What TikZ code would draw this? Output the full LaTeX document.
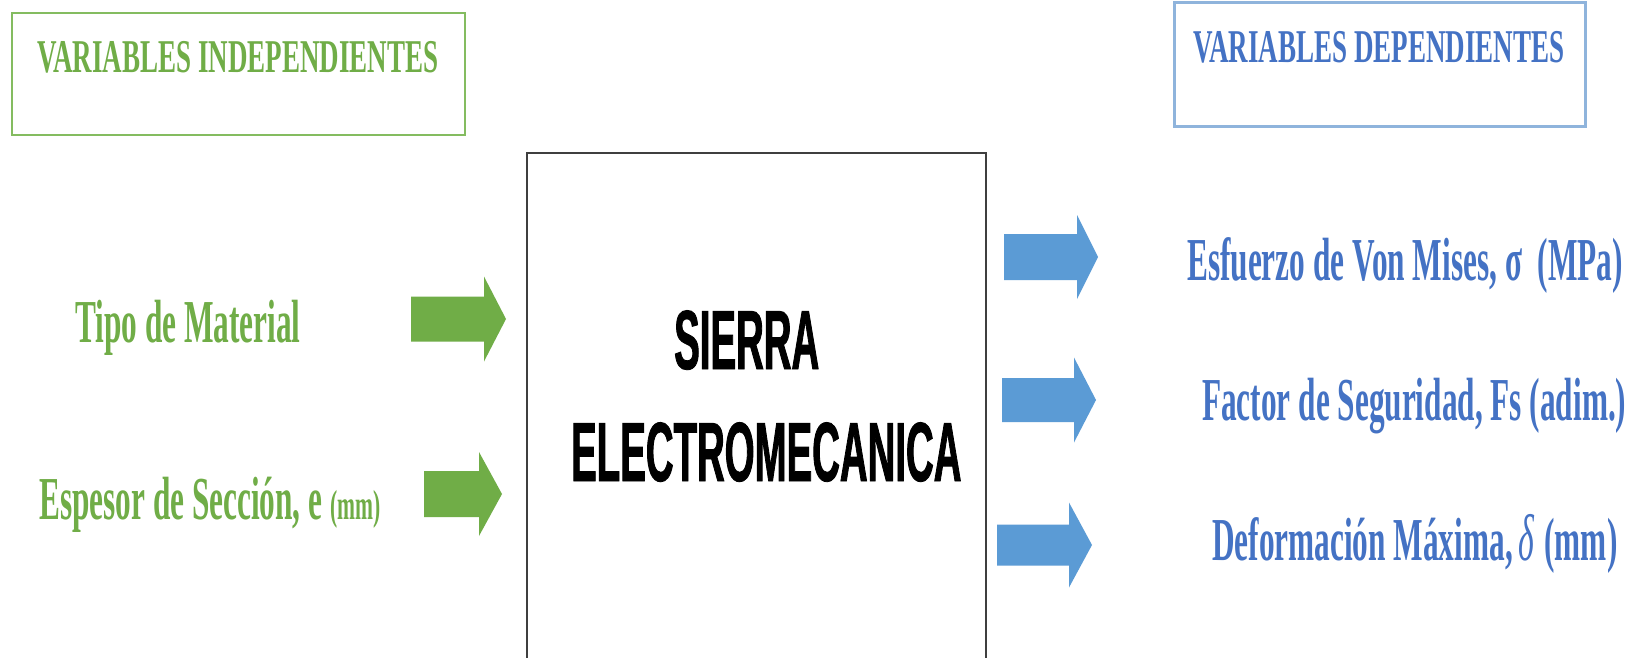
\documentclass[tikz,border=0pt]{standalone}
\usepackage{fontspec}
% condensed serif for the variable labels and the headings
\newfontfamily\labelfont[FakeStretch=0.513]{Liberation Serif}
\newfontfamily\headfont[FakeStretch=0.575]{Liberation Serif}
% condensed heavy sans for the central block
\newfontfamily\blockfont[FakeStretch=0.457,FakeBold=1]{Liberation Sans}

\definecolor{indepgreen}{HTML}{70AD47}
\definecolor{indepframe}{HTML}{84BC60}
\definecolor{depblue}{HTML}{4472C4}
\definecolor{deparrow}{HTML}{5B9BD5}
\definecolor{depframe}{HTML}{8FB4DC}
\definecolor{blockframe}{HTML}{3F3F3F}

% block arrow: style, x of tail, x of head base, x of tip, y of axis, half shaft, half head
\newcommand\fatarrow[7]{%
  \fill[#1] (#2,#5-#6) -- (#3,#5-#6) -- (#3,#5-#7) -- (#4,#5)
    -- (#3,#5+#7) -- (#3,#5+#6) -- (#2,#5+#6) -- cycle;}

\begin{document}
\begin{tikzpicture}[x=1pt,y=-1pt,
  lab/.style={inner sep=0pt, anchor=base west},
  frame/.style={inner sep=0pt, anchor=north west},
  indeplabel/.style={lab, text=indepgreen, font=\labelfont\bfseries\fontsize{61}{62}\selectfont},
  deplabel/.style={lab, text=depblue, font=\labelfont\bfseries\fontsize{61}{62}\selectfont},
  heading/.style={lab, font=\headfont\bfseries\fontsize{47}{48}\selectfont},
  blocktext/.style={lab, font=\blockfont\bfseries\fontsize{84}{84}\selectfont},
  greenarrow/.style={indepgreen},
  bluearrow/.style={deparrow}]

\clip (0,0) rectangle (1636,658);
\fill[white] (0,0) rectangle (1636,658);

% heading frames
\node[frame, draw=indepframe, line width=2.2pt, minimum width=453pt, minimum height=122pt]
  (indepbox) at (11,12) {};
\node[frame, draw=depframe, line width=2.6pt, minimum width=411pt, minimum height=124pt]
  (depbox) at (1173,1) {};
\node[heading, text=indepgreen] (indeptitle) at (37,73) {VARIABLES INDEPENDIENTES};
\node[heading, text=depblue] (deptitle) at (1193,63) {VARIABLES DEPENDIENTES};

% central block
\node[frame, draw=blockframe, line width=1.6pt, minimum width=459pt, minimum height=540pt]
  (saw) at (526,152) {};
\node[blocktext] (sierra) at (674,369) {SIERRA};
\node[blocktext] (electro) at (571,481) {ELECTROMECANICA};

% independent variables
\node[indeplabel] (material) at (75,342) {Tipo de Material};
\node[indeplabel] (espesor) at (39,519)
  {Espesor de Sección, e {\fontsize{42}{43}\selectfont (mm)}};

% dependent variables
\node[deplabel] (vonmises) at (1187,280) {Esfuerzo de Von Mises, σ \ (MPa)};
\node[deplabel] (seguridad) at (1202,420) {Factor de Seguridad, Fs (adim.)};
\node[deplabel] (deform) at (1212,560)
  {Deformación Máxima,\kern6pt{\fontseries{m}\itshape\fontsize{66}{66}\selectfont δ}\kern2pt{} (mm)};

% block arrows
\fatarrow{greenarrow}{411}{484}{506}{319}{22.5}{42.5}
\fatarrow{greenarrow}{424}{479}{502}{494}{23}{42}
\fatarrow{bluearrow}{1004}{1077}{1098}{257}{23}{42}
\fatarrow{bluearrow}{1002}{1074}{1096}{400}{22}{42.5}
\fatarrow{bluearrow}{997}{1069}{1092}{545}{20.5}{42.5}
\end{tikzpicture}
\end{document}
